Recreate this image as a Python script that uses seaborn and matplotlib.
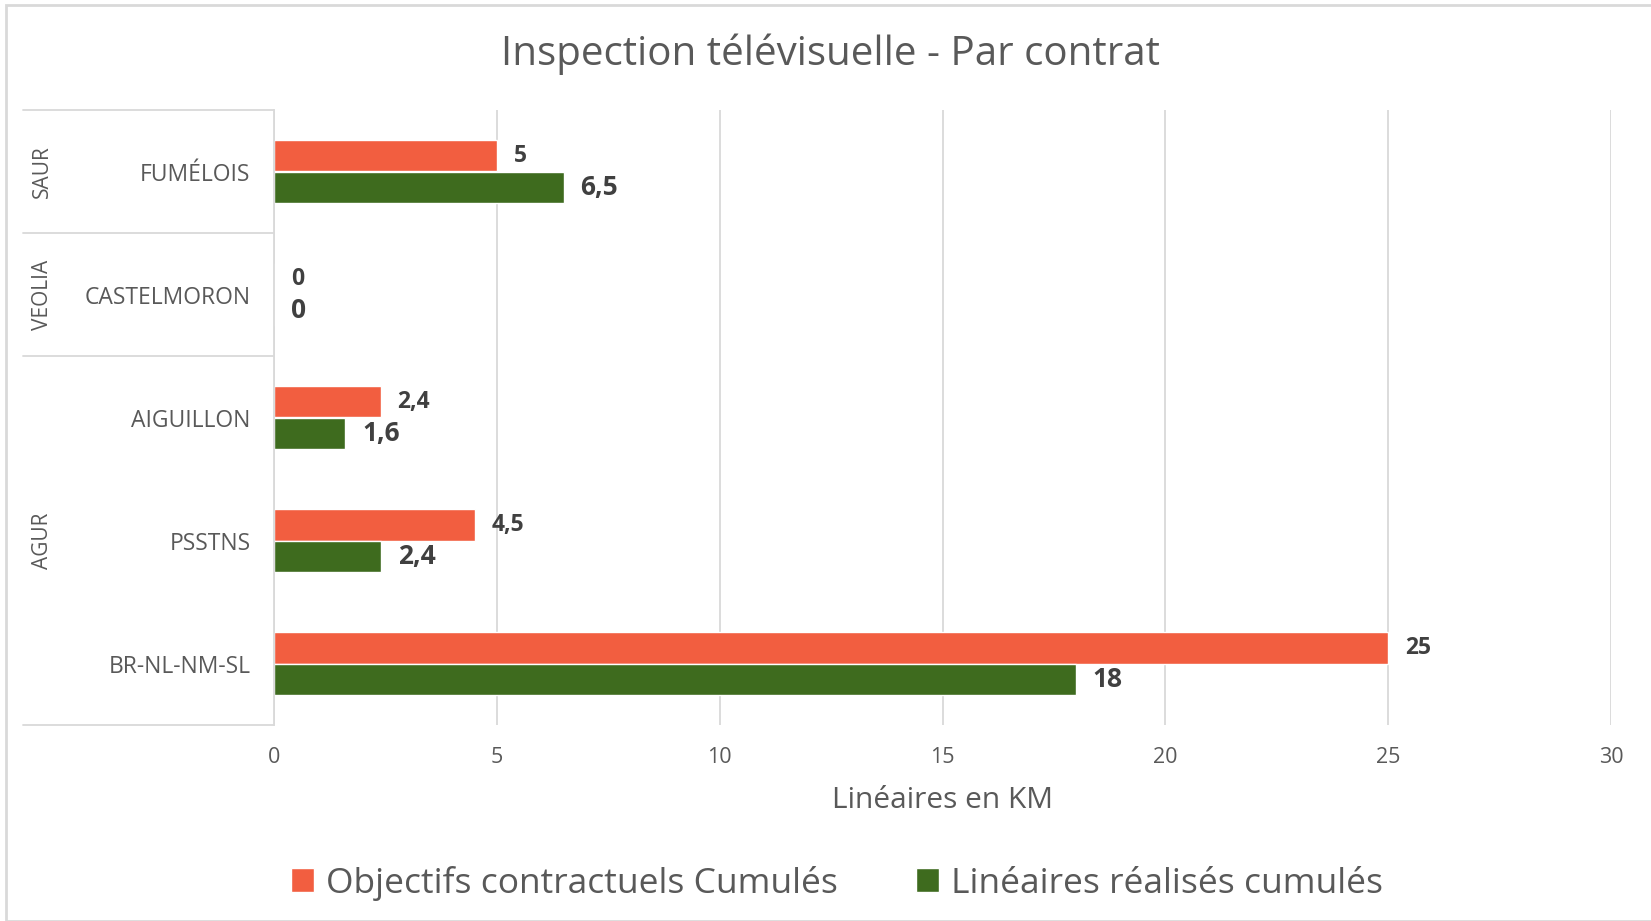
import numpy as np
import pandas as pd
import matplotlib
matplotlib.use('Agg')
import matplotlib.pyplot as plt
import matplotlib.transforms as mtransforms
from matplotlib.patches import Rectangle
import seaborn as sns

# data
contrats = ['FUMÉLOIS', 'CASTELMORON', 'AIGUILLON', 'PSSTNS', 'BR-NL-NM-SL']
groupes = ['SAUR', 'VEOLIA', 'AGUR', 'AGUR', 'AGUR']
objectifs = [5, 0, 2.4, 4.5, 25]
realises = [6.5, 0, 1.6, 2.4, 18]
series = ['Objectifs contractuels Cumulés', 'Linéaires réalisés cumulés']
xticks = [0, 5, 10, 15, 20, 25, 30]

ORANGE = '#F25E40'
GREEN = '#3E6B1E'
GRID = '#D9D9D9'
TXT = '#595959'
LBL = '#404040'

df = pd.DataFrame({
    'contrat': contrats * 2,
    'km': objectifs + realises,
    'serie': [series[0]] * len(contrats) + [series[1]] * len(contrats),
})

sns.set_style('white')
plt.rcParams['font.family'] = ['Open Sans', 'DejaVu Sans']

fig = plt.figure(figsize=(16.51, 9.21), dpi=100)
ax = fig.add_axes([274 / 1651, 1 - 725 / 921, (1611 - 274) / 1651, (725 - 110) / 921])

sns.barplot(data=df, y='contrat', x='km', hue='serie', order=contrats,
            hue_order=series, palette=[ORANGE, GREEN], orient='h',
            width=0.52, errorbar=None, ax=ax, saturation=1)

ax.set_xlim(0, 30)
ax.set_ylim(len(contrats) - 0.5, -0.5)
ax.set_xticks(xticks)
ax.set_xticklabels([str(t) for t in xticks])
ax.grid(axis='x', color=GRID, lw=1.3)
ax.set_axisbelow(True)
for s in ['top', 'right', 'bottom']:
    ax.spines[s].set_visible(False)
ax.spines['left'].set_color(GRID)
ax.spines['left'].set_linewidth(1.3)
ax.tick_params(axis='y', length=0, pad=17, labelsize=16.5, labelcolor=TXT)
ax.tick_params(axis='x', length=0, pad=16, labelsize=15.5, labelcolor=TXT)
ax.set_ylabel('')
ax.set_xlabel('Linéaires en KM', fontsize=21.5, color=TXT, va='center')
ax.xaxis.set_label_coords(0.5, -0.122)

# data labels
sizes = [16.5, 19]
for cont, fs in zip(ax.containers, sizes):
    labs = [('%g' % b.get_width()).replace('.', ',') for b in cont]
    ax.bar_label(cont, labels=labs, padding=12, fontsize=fs,
                 fontweight='bold', color=LBL)

# group axis on the left
trans = mtransforms.blended_transform_factory(ax.transAxes, ax.transData)
x_left = (23 - 274) / (1611 - 274)
bounds = [-0.5]
for i in range(1, len(groupes)):
    if groupes[i] != groupes[i - 1]:
        bounds.append(i - 0.5)
bounds.append(len(groupes) - 0.5)
for b in bounds:
    ax.plot([x_left, 0], [b, b], color=GRID, lw=1.3, transform=trans, clip_on=False)
for lo, hi in zip(bounds[:-1], bounds[1:]):
    name = groupes[int(lo + 0.5)]
    ax.text((42 - 274) / (1611 - 274), (lo + hi) / 2, name, rotation=90,
            ha='center', va='center', fontsize=15, color=TXT, transform=trans)

# legend
handles, labels = ax.get_legend_handles_labels()
ax.get_legend().remove()
fig.legend(handles, labels, loc='center', bbox_to_anchor=(0.507, 0.041), ncol=2,
           frameon=False, fontsize=25.5, labelcolor=TXT, handlelength=0.65,
           handleheight=0.65, handletextpad=0.35, columnspacing=2.2)

fig.text(0.503, 1 - 54 / 921, 'Inspection télévisuelle - Par contrat',
         ha='center', va='center', fontsize=29, color=TXT)

fig.patches.append(Rectangle((6 / 1651, 0), 1, 1 - 5 / 921, transform=fig.transFigure,
                             fill=False, edgecolor=GRID, lw=2))

fig.savefig('out.png', dpi=100)
